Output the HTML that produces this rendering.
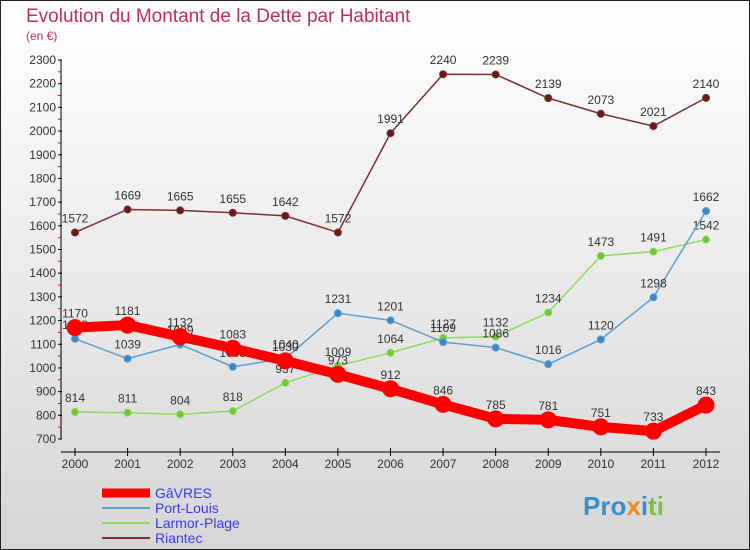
<!DOCTYPE html>
<html><head><meta charset="utf-8"><style>
body{margin:0}
#c{width:750px;height:550px;position:relative;overflow:hidden;font-family:"Liberation Sans","DejaVu Sans",sans-serif}
</style></head><body>
<div id="c">
<svg id="s" width="750" height="550" xmlns="http://www.w3.org/2000/svg">
<defs><linearGradient id="bg" x1="0" y1="0" x2="0" y2="1"><stop offset="0" stop-color="#ffffff"/><stop offset="1" stop-color="#d6d6d6"/></linearGradient></defs>
<rect x="0.5" y="0.5" width="749" height="549" fill="url(#bg)" stroke="#222"/>
<text x="26" y="22" font-size="19" fill="#c0305a">Evolution du Montant de la Dette par Habitant</text>
<text x="26" y="40" font-size="12" fill="#c0305a">(en €)</text>
<g id="axes"></g><g id="series"></g><g id="legend"></g>
<text x="583" y="515" font-size="26" font-weight="bold" fill="#3a8fd0">Pro<tspan fill="#f08a20">x</tspan><tspan fill="#3a8fd0">i</tspan><tspan fill="#80c040">ti</tspan></text>
</svg>
</div>
<script>
const years=[2000,2001,2002,2003,2004,2005,2006,2007,2008,2009,2010,2011,2012];
const yTicks=[700,800,900,1000,1100,1200,1300,1400,1500,1600,1700,1800,1900,2000,2100,2200,2300];
const gavres=[1170,1181,1132,1083,1030,973,912,846,785,781,751,733,843];
const portLouis=[1123,1039,1099,1005,1040,1231,1201,1109,1086,1016,1120,1298,1662];
const larmor=[814,811,804,818,937,1009,1064,1127,1132,1234,1473,1491,1542];
const riantec=[1572,1669,1665,1655,1642,1572,1991,2240,2239,2139,2073,2021,2140];
const NS="http://www.w3.org/2000/svg";
function X(i){return 75+i*(706-75)/(years.length-1);}
function Y(v){return 439-(v-700)*(439-60)/1600;}
function mk(t,a,p){const e=document.createElementNS(NS,t);for(const k in a)e.setAttribute(k,a[k]);p.appendChild(e);return e;}
const ax=document.getElementById('axes');
const ya=mk('line',{x1:61,y1:60,x2:61,y2:439,stroke:'#000'},ax);


const xa=mk('line',{x1:61,y1:452,x2:720,y2:452,stroke:'#000'},ax);


yTicks.forEach((v,i)=>{
 mk('line',{x1:58,y1:Y(v),x2:62,y2:Y(v),stroke:'#000'},ax);
 if(i<yTicks.length-1) mk('line',{x1:58,y1:Y(v+50),x2:61,y2:Y(v+50),stroke:'#e00'},ax);
 const t=mk('text',{x:56,y:Y(v)+4,'font-size':12,'text-anchor':'end',fill:'#333'},ax);t.textContent=v;
 
 
});
years.forEach((y,i)=>{
 mk('line',{x1:X(i),y1:448,x2:X(i),y2:456,stroke:'#000'},ax);
 const t=mk('text',{x:X(i),y:468,'font-size':12,'text-anchor':'middle',fill:'#333'},ax);t.textContent=y;
 
 
});
const sg=document.getElementById('series');
function series(data,color,dot,w,r,name){
 const g=mk('g',{},sg);
 
 
 mk('polyline',{points:data.map((v,i)=>X(i)+','+Y(v)).join(' '),fill:'none',stroke:color,'stroke-width':w,'stroke-linejoin':'round'},g);
 data.forEach((v,i)=>{
  const c=mk('circle',{cx:X(i),cy:Y(v),r:r,fill:dot,stroke:color,'stroke-width':1},g);
  
  
  const t=mk('text',{x:X(i),y:Y(v)-10,'font-size':12,'text-anchor':'middle',fill:'#333'},g);t.textContent=v;
  
  
 });
}
series(riantec,'#7a3030','#6a1818',1.5,3.5,'riantec');
series(larmor,'#90d860','#70c838',1.5,3.5,'larmor-plage');
series(portLouis,'#5a9fd0','#3a88c8',1.5,3.5,'port-louis');
series(gavres,'#ff0000','#ff0000',10,8,'gavres');
const lg=document.getElementById('legend');
const items=[['GâVRES','#ff0000',9],['Port-Louis','#5a9fd0',2],['Larmor-Plage','#90d860',2],['Riantec','#7a3030',2]];
items.forEach((it,i)=>{
 const y=493+i*15;
 const g=mk('g',{},lg);
 
 
 mk('line',{x1:102,y1:y,x2:150,y2:y,stroke:it[1],'stroke-width':it[2]},g);
 const t=mk('text',{x:155,y:y+5,'font-size':14,fill:'#3a3aee'},g);t.textContent=it[0];
});
</script>
</body></html>
